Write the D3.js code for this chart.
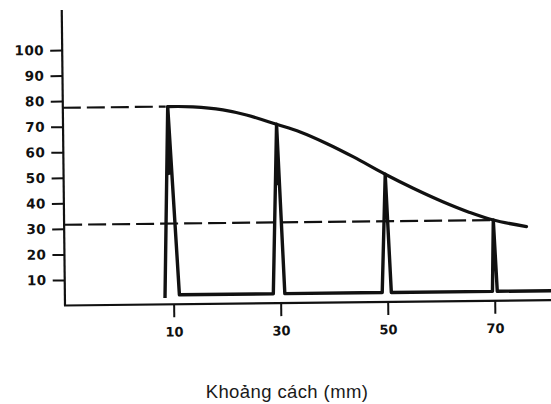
<!DOCTYPE html>
<html>
<head>
<meta charset="utf-8">
<script src="https://cdn.jsdelivr.net/npm/d3@7"></script>
<style>
  html, body { margin: 0; padding: 0; background: #fff; }
  svg { display: block; }
  .tick text { font-family: "DejaVu Sans", sans-serif; font-weight: bold; fill: #111; }
</style>
</head>
<body>
<svg id="chart" width="551" height="404"></svg>
<script>
// Tick labels
const xTicks = [10, 30, 50, 70];
const yTicks = [10, 20, 30, 40, 50, 60, 70, 80, 90, 100];

// Envelope curve through the pulse peaks (distance mm, level)
const envelopeX = [9.3, 14, 19.6, 24, 29.6, 34, 39, 44, 49.8, 55, 60.5, 65.5, 69.9, 76.1];
const envelopeY = [77.4, 77.2, 75.9, 73.8, 70.0, 66.9, 62.2, 56.8, 50.0, 44.4, 39.0, 34.7, 31.6, 28.9];

// Pulses: left foot, peak position, right foot, peak level
const pulseFootL = [8.4, 28.65, 49.0, 69.6];
const pulsePeakX = [9.3, 29.6, 49.8, 69.9];
const pulseFootR = [11.1, 30.8, 50.7, 70.5];
const pulsePeakY = [77.4, 70.0, 50.0, 31.6];
const baseLevel = 3.7;
const startLevel = 2.5;
const traceEnd = 80.7;

// Reference levels (first and last peak)
const refIndex = [0, 3];

const xTitle = "Khoảng cách (mm)";

const svg = d3.select("#chart");
const x = d3.scaleLinear().domain([-10.3, 80.7]).range([65, 552]);
const y = d3.scaleLinear().domain([0, 100]).range([305.5, 50]);
const yTop = 115.7;

const ink = "#111";
const g = svg.append("g").attr("transform", "rotate(-0.63, 65, 305.5)");

// Axes lines
g.append("line").attr("x1", x(-10.3)).attr("x2", x(-10.3))
  .attr("y1", y(0)).attr("y2", y(yTop))
  .attr("stroke", ink).attr("stroke-width", 2.2);
g.append("line").attr("x1", x(-10.3) - 1).attr("x2", x(80.7))
  .attr("y1", y(0)).attr("y2", y(0))
  .attr("stroke", ink).attr("stroke-width", 2.2);

const yAxis = g.append("g").attr("transform", `translate(${x(-10.3)},0)`)
  .call(d3.axisLeft(y).tickValues(yTicks).tickSize(12).tickPadding(6));
yAxis.select(".domain").remove();
yAxis.selectAll(".tick line").attr("stroke", ink).attr("stroke-width", 2);
yAxis.selectAll(".tick text").style("font-size", "13.5px").attr("letter-spacing", "0.5px");

const xAxis = g.append("g").attr("transform", `translate(0,${y(0)})`)
  .call(d3.axisBottom(x).tickValues(xTicks).tickSize(13).tickPadding(10));
xAxis.select(".domain").remove();
xAxis.selectAll(".tick line").attr("stroke", ink).attr("stroke-width", 2);
xAxis.selectAll(".tick text").style("font-size", "13px");

// Dashed reference lines at the first and last peak levels
refIndex.forEach(i => {
  g.append("line")
    .attr("x1", x(-10.3)).attr("x2", x(pulsePeakX[i]) - 2)
    .attr("y1", y(pulsePeakY[i])).attr("y2", y(pulsePeakY[i]))
    .attr("stroke", ink).attr("stroke-width", 2.2)
    .attr("stroke-dasharray", "18,6");
});

// Envelope curve
const env = envelopeX.map((d, i) => [d, envelopeY[i]]);
g.append("path")
  .attr("d", d3.line().x(d => x(d[0])).y(d => y(d[1])).curve(d3.curveCatmullRom.alpha(0.5))(env))
  .attr("fill", "none").attr("stroke", ink).attr("stroke-width", 3.2)
  .attr("stroke-linecap", "round");

// Pulse trace
const trace = [[pulseFootL[0], startLevel]];
pulsePeakX.forEach((px, i) => {
  if (i > 0) trace.push([pulseFootL[i], baseLevel]);
  trace.push([px, pulsePeakY[i]]);
  trace.push([pulseFootR[i], baseLevel]);
});
trace.push([traceEnd, baseLevel]);

g.append("path")
  .attr("d", d3.line().x(d => x(d[0])).y(d => y(d[1])).curve(d3.curveLinear)(trace))
  .attr("fill", "none").attr("stroke", ink).attr("stroke-width", 3.4)
  .attr("stroke-linejoin", "round");

// Solid core at the top of each pulse
const coreDepth = 0.36;
pulsePeakX.forEach((px, i) => {
  const foot = i === 0 ? startLevel : baseLevel;
  const lx = px + (pulseFootL[i] - px) * coreDepth;
  const rx = px + (pulseFootR[i] - px) * coreDepth;
  const ly = pulsePeakY[i] + (foot - pulsePeakY[i]) * coreDepth;
  const ry = pulsePeakY[i] + (baseLevel - pulsePeakY[i]) * coreDepth;
  g.append("path")
    .attr("d", d3.line()([[x(px), y(pulsePeakY[i])], [x(lx), y(ly)], [x(rx), y(ry)]]) + "Z")
    .attr("fill", ink);
});

// Axis title
svg.append("text")
  .attr("x", 287).attr("y", 398)
  .attr("text-anchor", "middle")
  .style("font-family", "'Liberation Sans', Arial, sans-serif")
  .style("font-size", "18.5px")
  .attr("letter-spacing", "0.4px")
  .attr("fill", "#1a1a1a")
  .text(xTitle);
</script>
</body>
</html>
